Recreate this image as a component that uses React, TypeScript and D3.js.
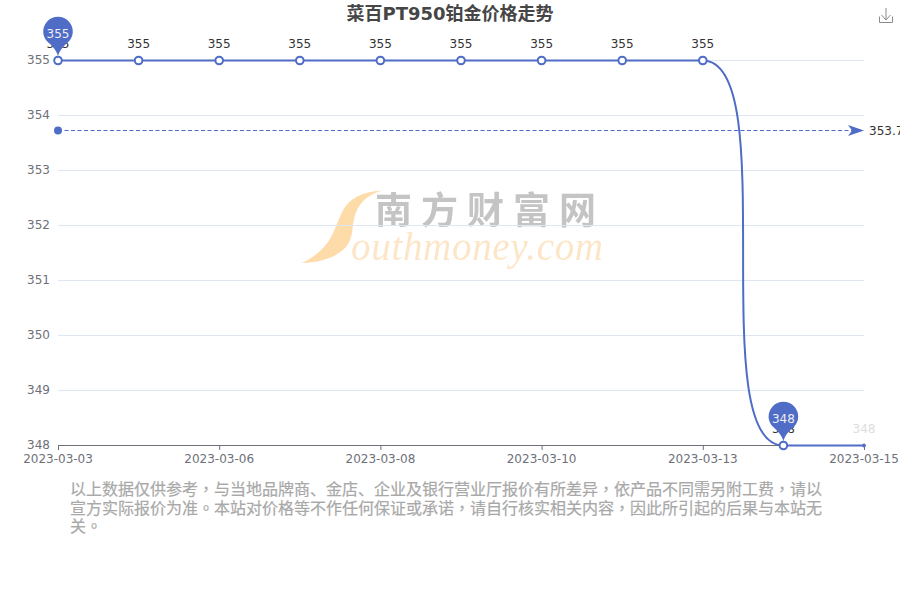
import * as d3 from "d3";
import { useEffect, useRef } from "react";

const WIDTH = 900;
const HEIGHT = 600;
const FONT = '"DejaVu Sans", "Noto Sans CJK SC", sans-serif';
const BLUE = "#4f6cc6";

const TITLE = "菜百PT950铂金价格走势";
const dates = ["2023-03-03", "2023-03-04", "2023-03-06", "2023-03-07", "2023-03-08", "2023-03-09", "2023-03-10", "2023-03-11", "2023-03-13", "2023-03-14", "2023-03-15"];
const prices = [355, 355, 355, 355, 355, 355, 355, 355, 355, 348, 348];
const yTicks = [348, 349, 350, 351, 352, 353, 354, 355];
const disclaimer = [
    "以上数据仅供参考，与当地品牌商、金店、企业及银行营业厅报价有所差异，依产品不同需另附工费，请以",
    "宣方实际报价为准。本站对价格等不作任何保证或承诺，请自行核实相关内容，因此所引起的后果与本站无",
    "关。",
];

// echarts style smoothing: horizontal handles as long as the whole segment
function smoothCurve(context: any) {
    let n = 0;
    let x0 = 0;
    let y0 = 0;
    return {
        areaStart() {},
        areaEnd() {},
        lineStart() { n = 0; },
        lineEnd() {},
        point(x: number, y: number) {
            if (n === 0) context.moveTo(x, y);
            else context.bezierCurveTo(x, y0, x0, y, x, y);
            x0 = x;
            y0 = y;
            n++;
        },
    };
}

function pinPath(cx: number, cy: number) {
    const r = 14.8;
    const tip = cy + 25;
    const p = d3.path();
    p.moveTo(cx, tip);
    p.bezierCurveTo(cx - 1, tip - 5, cx - 5, cy + 15.5, cx - 8.5, cy + 12.1);
    p.arc(cx, cy, r, Math.PI - Math.atan2(12.1, 8.5), Math.atan2(12.1, 8.5), false);
    p.bezierCurveTo(cx + 5, cy + 15.5, cx + 1, tip - 5, cx, tip);
    p.closePath();
    return p.toString();
}

export default function App() {
    const svgRef = useRef<SVGSVGElement | null>(null);

    useEffect(() => {
        if (!svgRef.current) return;
        const svg = d3.select(svgRef.current);
        svg.selectAll("*").remove();
        svg.attr("font-family", FONT);

        const x = d3.scalePoint<string>().domain(dates).range([58, 864]);
        // rounded so the grid lands on whole pixels, the axis adds its own half pixel
        const y = d3.scaleLinear().domain([348, 355]).rangeRound([445, 60]);
        const py = (v: number) => y(v) + 0.5;
        const px = (i: number) => x(dates[i]) as number;

        const blur = svg.append("defs").append("filter").attr("id", "wm-blur");
        blur.append("feGaussianBlur").attr("stdDeviation", 0.6);

        // watermark
        const wm = svg.append("g").attr("filter", "url(#wm-blur)");
        wm.append("path")
            .attr("d", "M382 190.5C362 192 349 198 342 212C336 225 332 240 322 249C316 255 309 260 301.5 263C318 263 336 258 346 247C353 239 352 228 354 219C357 205 366 195 382 190.5Z")
            .attr("fill", "#fedcaa");
        wm.append("text")
            .attr("x", 375).attr("y", 224)
            .attr("font-size", 37).attr("letter-spacing", 9).attr("font-weight", "bold")
            .attr("fill", "#c4c4c4")
            .text("南方财富网");
        wm.append("text")
            .attr("x", 351).attr("y", 260)
            .attr("font-size", 39).attr("font-style", "italic")
            .attr("font-family", '"Liberation Serif", serif')
            .attr("textLength", 252)
            .attr("fill", "#fde6c8")
            .text("outhmoney.com");

        // title
        svg.append("text")
            .attr("x", WIDTH / 2).attr("y", 20)
            .attr("text-anchor", "middle")
            .attr("font-size", 18).attr("font-weight", "bold")
            .attr("fill", "#464646")
            .text(TITLE);

        // download icon
        svg.append("path")
            .attr("d", "M886 8V20M881.5 15L886 20L890.5 15M879.5 16.5V22.5H892.5V16.5")
            .attr("fill", "none").attr("stroke", "#8a8a8a").attr("stroke-width", 1);

        // y axis + grid
        const yAxis = svg.append("g")
            .attr("transform", "translate(58,0)")
            .call(d3.axisLeft(y).tickValues(yTicks).tickSize(0).tickPadding(8).tickFormat((d) => String(d)));
        yAxis.select(".domain").remove();
        yAxis.selectAll("text").attr("fill", "#6e7079").attr("font-size", 12).attr("font-family", FONT);
        yAxis.selectAll(".tick line")
            .attr("x2", 806)
            .attr("stroke", "#e0e6f1")
            .attr("stroke-width", 1);

        // x axis
        const xAxis = svg.append("g")
            .attr("transform", "translate(0,445)")
            .call(d3.axisBottom(x).tickValues(dates.filter((_, i) => i % 2 === 0)).tickSize(5).tickPadding(4).tickSizeOuter(0));
        xAxis.select(".domain").attr("stroke", "#6e7079");
        xAxis.selectAll(".tick line").attr("stroke", "#6e7079");
        xAxis.selectAll("text").attr("fill", "#6e7079").attr("font-size", 12).attr("font-family", FONT).attr("dx", -0.5);

        // average line
        const avg = d3.mean(prices) as number;
        const avgY = py(avg);
        svg.append("line")
            .attr("x1", px(0)).attr("x2", px(dates.length - 1) - 8)
            .attr("y1", avgY).attr("y2", avgY)
            .attr("stroke", BLUE).attr("stroke-dasharray", "4 2.5");
        svg.append("circle").attr("cx", px(0)).attr("cy", avgY).attr("r", 4).attr("fill", BLUE);
        const tipX = px(dates.length - 1);
        svg.append("path")
            .attr("d", `M${tipX} ${avgY}L${tipX - 16} ${avgY - 5.5}L${tipX - 12} ${avgY}L${tipX - 16} ${avgY + 5.5}Z`)
            .attr("fill", BLUE);
        svg.append("text")
            .attr("x", tipX + 5).attr("y", avgY + 4)
            .attr("font-size", 12).attr("fill", "#333")
            .text(avg.toFixed(2));

        // series
        const line = d3.line<number>()
            .x((_, i) => px(i))
            .y((d) => py(d))
            .curve(smoothCurve as any);
        svg.append("path")
            .attr("d", line(prices))
            .attr("fill", "none").attr("stroke", BLUE).attr("stroke-width", 2);

        const last = prices.length - 1;
        svg.selectAll("circle.pt")
            .data(prices)
            .enter()
            .append("circle")
            .attr("class", "pt")
            .attr("cx", (_, i) => px(i))
            .attr("cy", (d) => py(d))
            .attr("r", (_, i) => (i === last ? 1.5 : 3.8))
            .attr("fill", (_, i) => (i === last ? BLUE : "#fff"))
            .attr("stroke", BLUE)
            .attr("stroke-width", (_, i) => (i === last ? 1 : 2));

        svg.selectAll("text.val")
            .data(prices)
            .enter()
            .append("text")
            .attr("class", "val")
            .attr("x", (_, i) => px(i))
            .attr("y", (d) => py(d) - 13)
            .attr("text-anchor", "middle")
            .attr("font-size", 12)
            .attr("fill", (_, i) => (i === last ? "#ddd" : "#333"))
            .text((d) => d);

        // max / min pins
        const pinIdx = [prices.indexOf(d3.max(prices) as number), prices.indexOf(d3.min(prices) as number)];
        pinIdx.forEach((i) => {
            const cx = px(i);
            const cy = py(prices[i]) - 29;
            svg.append("path").attr("d", pinPath(cx, cy)).attr("fill", BLUE);
            svg.append("text")
                .attr("x", cx).attr("y", cy + 6)
                .attr("text-anchor", "middle")
                .attr("font-size", 12).attr("fill", "#eee")
                .text(prices[i]);
        });

        // disclaimer, the comma and full stop sit mid-cell in the original so they come from the TC font
        const note = svg.selectAll("text.note")
            .data(disclaimer)
            .enter()
            .append("text")
            .attr("class", "note")
            .attr("x", 70)
            .attr("y", (_, i) => 495 + i * 18.5)
            .attr("font-size", 16)
            .attr("fill", "#a8a8a8")
            .attr("stroke", "#a8a8a8")
            .attr("stroke-width", 0.2);
        note.each(function (d) {
            const el = d3.select(this);
            d.split(/([，。])/).filter(Boolean).forEach((part) => {
                const span = el.append("tspan").text(part);
                if (part === "，" || part === "。") span.attr("font-family", '"Noto Sans CJK TC"');
            });
        });

        return () => { svg.selectAll("*").remove(); };
    }, []);

    return <svg ref={svgRef} width={WIDTH} height={HEIGHT} style={{ position: "absolute", left: 0, top: 0 }} />;
}
